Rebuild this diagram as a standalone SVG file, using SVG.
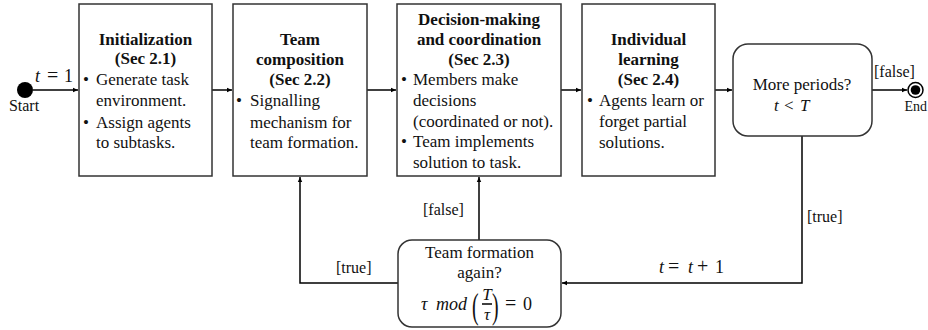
<svg xmlns="http://www.w3.org/2000/svg" width="928" height="330" viewBox="0 0 928 330">
<defs>
<style>
.box{fill:#fff;stroke:#333;stroke-width:1.5}
.t{font-family:"Liberation Serif","Times New Roman",serif;font-size:17px;fill:#111}
.b{font-weight:bold}
.c{text-anchor:middle}
.lbl{font-family:"Liberation Serif","Times New Roman",serif;font-size:16px;fill:#111}
.m{font-family:"Liberation Serif","Times New Roman",serif;font-size:18px;fill:#111}
.i{font-style:italic}
.ln{fill:none;stroke:#000;stroke-width:1.5}
</style>
<marker id="ah" markerWidth="6" markerHeight="6" refX="5" refY="3" orient="auto" markerUnits="userSpaceOnUse">
<path d="M0,0.8 L5,3 L0,5.2 Z" fill="#000"/>
</marker>
</defs>
<rect width="928" height="330" fill="#fff"/>

<g id="connectors">
<path class="ln" d="M33,90 H78" marker-end="url(#ah)"/>
<path class="ln" d="M212,90 H232" marker-end="url(#ah)"/>
<path class="ln" d="M367,90 H396" marker-end="url(#ah)"/>
<path class="ln" d="M561,90 H581" marker-end="url(#ah)"/>
<path class="ln" d="M715,90 H732" marker-end="url(#ah)"/>
<path class="ln" d="M872,90 H907" marker-end="url(#ah)"/>
<path class="ln" d="M802,136 V283 H562" marker-end="url(#ah)"/>
<path class="ln" d="M398,283 H300 V177" marker-end="url(#ah)"/>
<path class="ln" d="M479,240 V177" marker-end="url(#ah)"/>
<text class="m" x="35" y="82"><tspan class="i">t</tspan><tspan x="47" style="font-size:20px">=</tspan><tspan x="64">1</tspan></text>
<text class="lbl" x="874" y="77">[false]</text>
<text class="lbl" x="807" y="222">[true]</text>
<text class="m" y="273"><tspan class="i" x="659">t</tspan><tspan x="668" style="font-size:20px">=</tspan><tspan class="i" x="688">t</tspan><tspan x="697" style="font-size:20px">+</tspan><tspan x="715">1</tspan></text>
<text class="lbl" x="336" y="273">[true]</text>
<text class="lbl" x="423" y="215">[false]</text>
</g>

<g id="start">
<circle cx="25" cy="90" r="8" fill="#000"/>
<text class="lbl" x="24" y="111" text-anchor="middle">Start</text>
</g>

<g id="init">
<rect class="box" x="79" y="4" width="133" height="172"/>
<text class="t b c" x="145.5" y="45">Initialization</text>
<text class="t b c" x="145.5" y="64">(Sec 2.1)</text>
<text class="t" x="83" y="85">•</text>
<text class="t" x="96" y="85">Generate task</text>
<text class="t" x="96" y="106">environment.</text>
<text class="t" x="83" y="128">•</text>
<text class="t" x="96" y="128">Assign agents</text>
<text class="t" x="96" y="148">to subtasks.</text>
</g>

<g id="team">
<rect class="box" x="233" y="4" width="134" height="172"/>
<text class="t b c" x="300" y="45">Team</text>
<text class="t b c" x="300" y="65">composition</text>
<text class="t b c" x="300" y="85">(Sec 2.2)</text>
<text class="t" x="236" y="106">•</text>
<text class="t" x="250" y="106">Signalling</text>
<text class="t" x="250" y="128">mechanism for</text>
<text class="t" x="250" y="148">team formation.</text>
</g>

<g id="decision">
<rect class="box" x="397" y="4" width="164" height="172"/>
<text class="t b c" x="479" y="25">Decision-making</text>
<text class="t b c" x="479" y="45">and coordination</text>
<text class="t b c" x="479" y="65">(Sec 2.3)</text>
<text class="t" x="401" y="85">•</text>
<text class="t" x="413" y="85">Members make</text>
<text class="t" x="413" y="106">decisions</text>
<text class="t" x="413" y="127">(coordinated or not).</text>
<text class="t" x="401" y="147">•</text>
<text class="t" x="413" y="147">Team implements</text>
<text class="t" x="413" y="168">solution to task.</text>
</g>

<g id="learning">
<rect class="box" x="582" y="4" width="133" height="172"/>
<text class="t b c" x="648.5" y="45">Individual</text>
<text class="t b c" x="648.5" y="65">learning</text>
<text class="t b c" x="648.5" y="85">(Sec 2.4)</text>
<text class="t" x="587" y="106">•</text>
<text class="t" x="599" y="106">Agents learn or</text>
<text class="t" x="599" y="127">forget partial</text>
<text class="t" x="599" y="148">solutions.</text>
</g>

<g id="more-periods">
<rect class="box" x="733" y="44" width="139" height="92" rx="15"/>
<text class="t c" x="802" y="90">More periods?</text>
<text class="m" y="111" style="font-size:17px"><tspan class="i" x="774">t</tspan><tspan x="784">&lt;</tspan><tspan class="i" x="800">T</tspan></text>
</g>

<g id="end">
<circle cx="915.5" cy="90" r="7.5" fill="#fff" stroke="#000" stroke-width="1.5"/>
<circle cx="915.5" cy="90" r="4.8" fill="#000"/>
<text class="lbl" x="927" y="111" text-anchor="end" style="font-size:14px">End</text>
</g>

<g id="team-formation">
<rect class="box" x="398" y="240" width="163" height="87" rx="14"/>
<text class="t c" x="479.5" y="258">Team formation</text>
<text class="t c" x="479.5" y="278">again?</text>
<text class="m" y="310"><tspan class="i" x="421">τ</tspan><tspan class="i" x="436">mod</tspan></text>
<text class="m" transform="translate(472,318) scale(0.55,1)" style="font-size:36px">(</text>
<text class="m i" x="487" y="300" text-anchor="middle" style="font-size:17px">T</text>
<line x1="482" y1="304" x2="492" y2="304" stroke="#000" stroke-width="1.5"/>
<text class="m i" x="487" y="320" text-anchor="middle" style="font-size:17px">τ</text>
<text class="m" transform="translate(492,318) scale(0.55,1)" style="font-size:36px">)</text>
<text class="m" x="505" y="310" style="font-size:20px">=</text>
<text class="m" x="523" y="310">0</text>
</g>
</svg>
